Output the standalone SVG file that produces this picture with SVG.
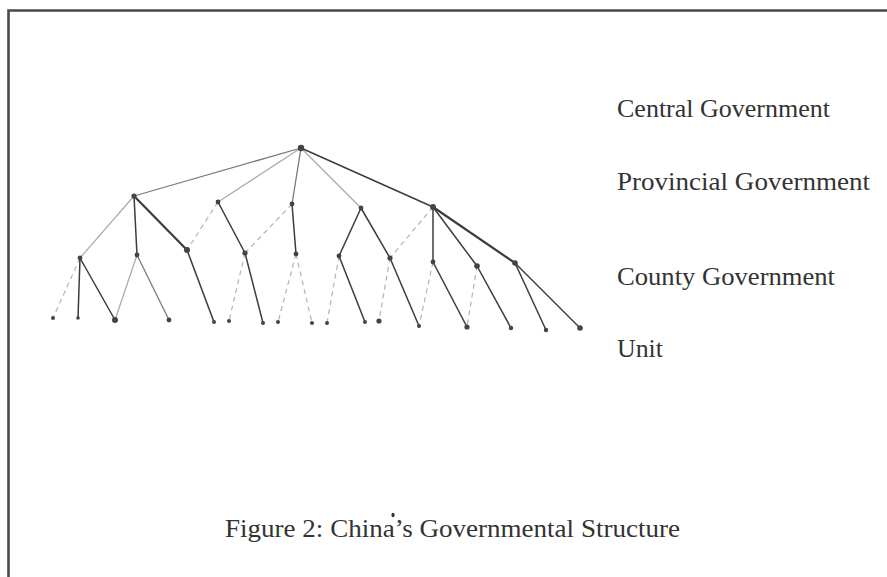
<svg xmlns="http://www.w3.org/2000/svg" width="887" height="577" viewBox="0 0 887 577">
<style>
.bg{fill:#ffffff}
.frame{stroke:#4a4a4a;stroke-width:2.6;fill:none}
.dark{stroke:#3c3c3c;stroke-width:1.5;fill:none}
.thick{stroke:#3c3c3c;stroke-width:2.2;fill:none}
.mid{stroke:#7a7a7a;stroke-width:1.3;fill:none}
.light{stroke:#a8a8a8;stroke-width:1.2;fill:none}
.faint{stroke:#b4b4b4;stroke-width:1.2;fill:none;stroke-dasharray:5 4}
.n{fill:#444}
.lbl{font-family:"Liberation Serif","Times New Roman",serif;font-size:26px;fill:#333}
.cap{font-family:"Liberation Serif","Times New Roman",serif;font-size:25px;fill:#333}
</style>
<rect class="bg" x="0" y="0" width="887" height="577"/>
<path class="frame" d="M8.5 577 V10.5 H887"/>

<g id="connectors">
<line class="mid" x1="301" y1="148" x2="134" y2="196"/>
<line class="light" x1="301" y1="148" x2="218" y2="202"/>
<line class="mid" x1="301" y1="148" x2="292" y2="204"/>
<line class="light" x1="301" y1="148" x2="361" y2="208"/>
<line class="dark" x1="301" y1="148" x2="433" y2="207"/>

<line class="light" x1="134" y1="196" x2="80" y2="258"/>
<line class="dark" x1="134" y1="196" x2="137" y2="255"/>
<line class="thick" x1="134" y1="196" x2="187" y2="250"/>
<line class="faint" x1="218" y1="202" x2="187" y2="250"/>
<line class="dark" x1="218" y1="202" x2="245" y2="253"/>
<line class="faint" x1="292" y1="204" x2="245" y2="253"/>
<line class="dark" x1="292" y1="204" x2="296" y2="254"/>
<line class="dark" x1="361" y1="208" x2="339" y2="256"/>
<line class="dark" x1="361" y1="208" x2="390" y2="258"/>
<line class="faint" x1="433" y1="207" x2="390" y2="258"/>
<line class="dark" x1="433" y1="207" x2="433" y2="262"/>
<line class="dark" x1="433" y1="207" x2="477" y2="266"/>
<line class="thick" x1="433" y1="207" x2="515" y2="263"/>

<line class="faint" x1="80" y1="258" x2="53" y2="318"/>
<line class="dark" x1="80" y1="258" x2="78" y2="318"/>
<line class="dark" x1="80" y1="258" x2="115" y2="320"/>
<line class="light" x1="137" y1="255" x2="115" y2="320"/>
<line class="mid" x1="137" y1="255" x2="169" y2="320"/>
<line class="dark" x1="187" y1="250" x2="214" y2="322"/>
<line class="faint" x1="245" y1="253" x2="229" y2="321"/>
<line class="dark" x1="245" y1="253" x2="263" y2="323"/>
<line class="faint" x1="296" y1="254" x2="278" y2="322"/>
<line class="faint" x1="296" y1="254" x2="312" y2="323"/>
<line class="faint" x1="339" y1="256" x2="327" y2="323"/>
<line class="dark" x1="339" y1="256" x2="365" y2="322"/>
<line class="faint" x1="390" y1="258" x2="379" y2="321"/>
<line class="dark" x1="390" y1="258" x2="419" y2="326"/>
<line class="faint" x1="433" y1="262" x2="419" y2="326"/>
<line class="dark" x1="433" y1="262" x2="467" y2="327"/>
<line class="faint" x1="477" y1="266" x2="467" y2="327"/>
<line class="dark" x1="477" y1="266" x2="511" y2="328"/>
<line class="dark" x1="515" y1="263" x2="546" y2="330"/>
<line class="dark" x1="515" y1="263" x2="580" y2="328"/>
</g>

<g id="central"><circle class="n" cx="301" cy="148" r="3.2"/></g>

<g id="prov1"><circle class="n" cx="134" cy="196" r="2.6"/></g>
<g id="prov2"><circle class="n" cx="218" cy="202" r="2.4"/></g>
<g id="prov3"><circle class="n" cx="292" cy="204" r="2.4"/></g>
<g id="prov4"><circle class="n" cx="361" cy="208" r="2.4"/></g>
<g id="prov5"><circle class="n" cx="433" cy="207" r="3"/></g>

<g id="county1"><circle class="n" cx="80" cy="258" r="2.4"/></g>
<g id="county2"><circle class="n" cx="137" cy="255" r="2.4"/></g>
<g id="county3"><circle class="n" cx="187" cy="250" r="3"/></g>
<g id="county4"><circle class="n" cx="245" cy="253" r="2.6"/></g>
<g id="county5"><circle class="n" cx="296" cy="254" r="2.4"/></g>
<g id="county6"><circle class="n" cx="339" cy="256" r="2.4"/></g>
<g id="county7"><circle class="n" cx="390" cy="258" r="2.6"/></g>
<g id="county8"><circle class="n" cx="433" cy="262" r="2.4"/></g>
<g id="county9"><circle class="n" cx="477" cy="266" r="2.8"/></g>
<g id="county10"><circle class="n" cx="515" cy="263" r="2.8"/></g>

<g id="unit1"><circle class="n" cx="53" cy="318" r="2"/></g>
<g id="unit2"><circle class="n" cx="78" cy="318" r="1.8"/></g>
<g id="unit3"><circle class="n" cx="115" cy="320" r="3"/></g>
<g id="unit4"><circle class="n" cx="169" cy="320" r="2.4"/></g>
<g id="unit5"><circle class="n" cx="214" cy="322" r="2"/></g>
<g id="unit6"><circle class="n" cx="229" cy="321" r="2"/></g>
<g id="unit7"><circle class="n" cx="263" cy="323" r="2"/></g>
<g id="unit8"><circle class="n" cx="278" cy="322" r="2"/></g>
<g id="unit9"><circle class="n" cx="312" cy="323" r="2"/></g>
<g id="unit10"><circle class="n" cx="327" cy="323" r="2"/></g>
<g id="unit11"><circle class="n" cx="365" cy="322" r="2"/></g>
<g id="unit12"><circle class="n" cx="379" cy="321" r="2.6"/></g>
<g id="unit13"><circle class="n" cx="419" cy="326" r="2"/></g>
<g id="unit14"><circle class="n" cx="467" cy="327" r="2.6"/></g>
<g id="unit15"><circle class="n" cx="511" cy="328" r="2.2"/></g>
<g id="unit16"><circle class="n" cx="546" cy="330" r="2.2"/></g>
<g id="unit17"><circle class="n" cx="580" cy="328" r="2.8"/></g>

<g id="labels">
<text class="lbl" x="617" y="117" textLength="213" lengthAdjust="spacingAndGlyphs">Central Government</text>
<text class="lbl" x="617" y="190" textLength="253" lengthAdjust="spacingAndGlyphs">Provincial Government</text>
<text class="lbl" x="617" y="285" textLength="218" lengthAdjust="spacingAndGlyphs">County Government</text>
<text class="lbl" x="617" y="357" textLength="46" lengthAdjust="spacingAndGlyphs">Unit</text>
</g>

<g id="caption">
<ellipse cx="393" cy="515" rx="1.6" ry="2.2" fill="#333"/>
<text class="cap" x="225" y="537" textLength="455" lengthAdjust="spacingAndGlyphs">Figure 2: China’s Governmental Structure</text>
</g>
</svg>
